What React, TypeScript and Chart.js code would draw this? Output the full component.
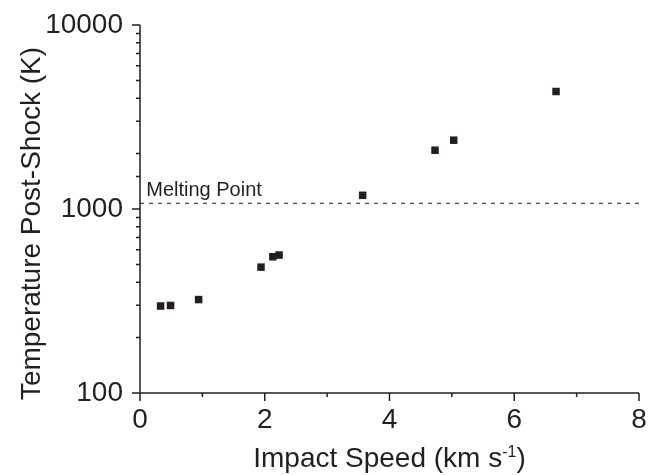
import React, { useEffect, useRef } from "react";
import { Chart, registerables } from "chart.js";

Chart.register(...registerables);

const speeds = [0.33, 0.49, 0.94, 1.94, 2.13, 2.23, 3.57, 4.73, 5.03, 6.67];
const temps = [297, 299, 322, 483, 550, 562, 1187, 2087, 2366, 4351];
const meltingPoint = 1074;
const meltingRange = [0, 8];
const meltingLabel = "Melting Point";
const yLabelTicks = [100, 1000, 10000];
const xTitleMain = "Impact Speed (km s";
const xTitleSup = "-1";
const xTitleEnd = ")";
const yTitle = "Temperature Post-Shock (K)";

const INK = "#231f20";
const FONT = '"Liberation Sans", Arial, Helvetica, sans-serif';

const axesPlugin = {
  id: "customAxes",
  afterDraw(chart: any) {
    const { ctx, chartArea, scales } = chart;
    const xs = scales.x;
    const ys = scales.y;
    ctx.save();
    ctx.strokeStyle = INK;
    ctx.lineWidth = 1.5;
    ctx.beginPath();
    ctx.moveTo(chartArea.left, chartArea.top);
    ctx.lineTo(chartArea.left, chartArea.bottom);
    ctx.moveTo(chartArea.left, chartArea.bottom);
    ctx.lineTo(chartArea.right, chartArea.bottom);
    for (const t of ys.ticks) {
      const py = ys.getPixelForValue(t.value);
      const lg = Math.log10(t.value);
      const major = Math.abs(lg - Math.round(lg)) < 1e-9;
      const len = major ? 8 : 4;
      ctx.moveTo(chartArea.left - len, py);
      ctx.lineTo(chartArea.left, py);
    }
    for (const t of xs.ticks) {
      const px = xs.getPixelForValue(t.value);
      const major = Math.round(t.value) % 2 === 0;
      const len = major ? 8 : 4;
      ctx.moveTo(px, chartArea.bottom);
      ctx.lineTo(px, chartArea.bottom + len);
    }
    ctx.stroke();

    ctx.fillStyle = INK;
    ctx.font = `20px ${FONT}`;
    ctx.textAlign = "left";
    ctx.textBaseline = "alphabetic";
    ctx.fillText(
      meltingLabel,
      xs.getPixelForValue(0.1),
      ys.getPixelForValue(meltingPoint) - 7
    );

    const mainFont = `28px ${FONT}`;
    const supFont = `16px ${FONT}`;
    ctx.font = mainFont;
    const w1 = ctx.measureText(xTitleMain).width;
    const w3 = ctx.measureText(xTitleEnd).width;
    ctx.font = supFont;
    const w2 = ctx.measureText(xTitleSup).width;
    const total = w1 + w2 + w3;
    const cx = (chartArea.left + chartArea.right) / 2;
    const x0 = cx - total / 2;
    const base = 467;
    ctx.font = mainFont;
    ctx.fillText(xTitleMain, x0, base);
    ctx.font = supFont;
    ctx.fillText(xTitleSup, x0 + w1, base - 10);
    ctx.font = mainFont;
    ctx.fillText(xTitleEnd, x0 + w1 + w2, base);

    ctx.translate(40, 223.5);
    ctx.rotate(-Math.PI / 2);
    ctx.textAlign = "center";
    ctx.font = mainFont;
    ctx.fillText(yTitle, 0, 0);
    ctx.restore();
  },
};

export default function App() {
  const ref = useRef<HTMLCanvasElement>(null);
  useEffect(() => {
    if (!ref.current) return;
    const chart = new Chart(ref.current, {
      type: "scatter",
      data: {
        datasets: [
          {
            label: "data",
            data: speeds.map((s, i) => ({ x: s, y: temps[i] })),
            pointStyle: "rect",
            pointRadius: 5.3,
            pointBackgroundColor: INK,
            pointBorderWidth: 0,
            backgroundColor: INK,
            borderColor: INK,
          },
          {
            type: "line",
            label: "melting",
            data: meltingRange.map((x) => ({ x, y: meltingPoint })),
            borderColor: INK,
            borderWidth: 1,
            borderDash: [4, 5],
            pointRadius: 0,
            fill: false,
          } as any,
        ],
      },
      options: {
        responsive: false,
        animation: false,
        layout: { padding: { top: 25, right: 21, left: 0, bottom: 0 } },
        plugins: {
          legend: { display: false },
          tooltip: { enabled: false },
        },
        scales: {
          x: {
            type: "linear",
            min: 0,
            max: 8,
            grid: { display: false, drawTicks: false },
            border: { display: false },
            ticks: {
              stepSize: 1,
              padding: 10,
              color: INK,
              font: { family: FONT, size: 28 },
              maxRotation: 0,
              autoSkip: false,
              callback: (v: any) => (Math.round(v) % 2 === 0 ? String(v) : ""),
            },
            afterFit: (s: any) => {
              s.height = 82;
              s.paddingLeft = 0;
              s.paddingRight = 0;
            },
          },
          y: {
            type: "logarithmic",
            min: 100,
            max: 10000,
            grid: { display: false, drawTicks: false },
            border: { display: false },
            ticks: {
              padding: 17,
              color: INK,
              font: { family: FONT, size: 28 },
              autoSkip: false,
              callback: (v: any) => (yLabelTicks.includes(Number(v)) ? String(v) : ""),
            },
            afterFit: (s: any) => {
              s.width = 140;
              s.paddingTop = 0;
              s.paddingBottom = 0;
            },
          },
        },
      },
      plugins: [axesPlugin],
    });
    return () => chart.destroy();
  }, []);
  return (
    <div style={{ position: "fixed", left: 0, top: 0, width: 660, height: 475, background: "#fff" }}>
      <canvas ref={ref} width={660} height={475} style={{ width: 660, height: 475 }} />
    </div>
  );
}
